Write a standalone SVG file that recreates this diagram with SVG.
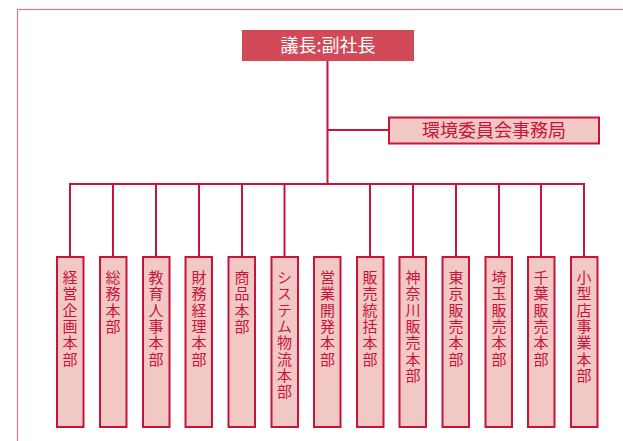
<svg xmlns="http://www.w3.org/2000/svg" width="623" height="441" viewBox="0 0 623 441">
<style>
.frame{fill:none;stroke:#d97a8a;stroke-width:1.2}
.con{fill:none;stroke:#c8143c;stroke-width:2}
.box{fill:#f1c8c3;stroke:#c8143c;stroke-width:2}
.top{fill:#d24a58;stroke:none}
.t{font-family:"Noto Sans CJK JP","Noto Sans",sans-serif;fill:#c8143c}
.v{font-size:15px;writing-mode:vertical-rl;letter-spacing:1.3px}
</style>
<rect width="623" height="441" fill="#ffffff"/>
<rect class="frame" x="17.5" y="9.5" width="700" height="500"/>
<g id="connectors">
<path class="con" d="M327.5 61V184M327.5 130H388M70 184H584M70 183V257M113 183V257M156 183V257M199 183V257M242 183V257M284.5 183V257M370 183V257M413 183V257M456 183V257M499 183V257M541 183V257M584 183V257"/>
</g>
<g id="n-chair"><rect class="top" x="242" y="30" width="172" height="31"/><text x="328" y="51.5" text-anchor="middle" class="t" style="font-size:18px;fill:#ffffff">議長:副社長</text></g>
<g id="n-env"><rect class="box" x="389" y="117.5" width="210" height="26"/><text x="494" y="137" text-anchor="middle" class="t" style="font-size:18px">環境委員会事務局</text></g>
<g id="n1"><rect class="box" x="57" y="257" width="26.5" height="170"/><text x="70" y="270" class="t v">経営企画本部</text></g>
<g id="n2"><rect class="box" x="100" y="257" width="26.5" height="170"/><text x="113" y="270" class="t v">総務本部</text></g>
<g id="n3"><rect class="box" x="143" y="257" width="26.5" height="170"/><text x="156" y="270" class="t v">教育人事本部</text></g>
<g id="n4"><rect class="box" x="185.5" y="257" width="26.5" height="170"/><text x="199" y="270" class="t v">財務経理本部</text></g>
<g id="n5"><rect class="box" x="228.5" y="257" width="26.5" height="170"/><text x="242" y="270" class="t v">商品本部</text></g>
<g id="n6"><rect class="box" x="271.5" y="257" width="26.5" height="170"/><text x="284.5" y="270" class="t v">システム物流本部</text></g>
<g id="n7"><rect class="box" x="314" y="257" width="26.5" height="170"/><text x="327.5" y="270" class="t v">営業開発本部</text></g>
<g id="n8"><rect class="box" x="357" y="257" width="26.5" height="170"/><text x="370" y="270" class="t v">販売統括本部</text></g>
<g id="n9"><rect class="box" x="399.5" y="257" width="26.5" height="170"/><text x="413" y="270" class="t v">神奈川販売本部</text></g>
<g id="n10"><rect class="box" x="442.5" y="257" width="26.5" height="170"/><text x="456" y="270" class="t v">東京販売本部</text></g>
<g id="n11"><rect class="box" x="485.5" y="257" width="26.5" height="170"/><text x="499" y="270" class="t v">埼玉販売本部</text></g>
<g id="n12"><rect class="box" x="528" y="257" width="26.5" height="170"/><text x="541" y="270" class="t v">千葉販売本部</text></g>
<g id="n13"><rect class="box" x="571" y="257" width="26.5" height="170"/><text x="584" y="270" class="t v">小型店事業本部</text></g>
</svg>
